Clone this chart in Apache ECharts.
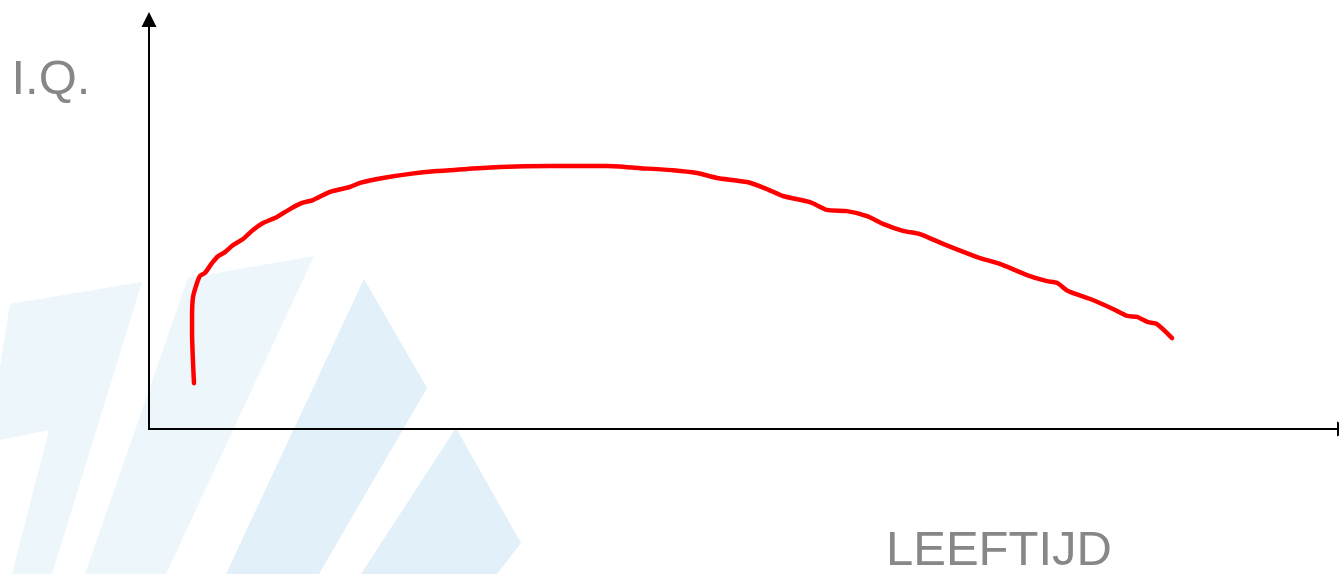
<!DOCTYPE html>
<html>
<head>
<meta charset="utf-8">
<script src="https://cdn.jsdelivr.net/npm/echarts@6/dist/echarts.min.js"></script>
<style>
html,body{margin:0;padding:0;background:#fff;}
#chart{width:1339px;height:574px;}
</style>
</head>
<body>
<div id="chart"></div>
<script>
// Data (arbitrary units: age 0-100, IQ 0-100)
const ageValues = [3.78,3.62,3.62,3.70,4.04,4.29,4.70,5.29,5.80,6.39,7.06,7.90,8.74,9.58,10.76,11.84,12.86,13.78,15.21,16.89,17.73,19.66,21.93,24.20,26.72,29.50,33.69,35.63,38.49,41.26,44.03,46.05,47.73,50.25,51.93,53.27,55.55,56.97,58.66,60.34,61.68,63.36,64.79,66.73,69.58,71.51,73.78,75.46,76.30,77.23,79.32,81.01,82.19,83.02,83.95,84.71,85.97];
const iqValues = [11.2,23.4,27.4,32.2,35.7,37.4,38.1,40.5,42.2,43.2,44.9,46.4,48.6,50.3,51.8,53.7,55.2,55.9,57.9,59.1,60.1,61.3,62.3,63.0,63.5,64.0,64.2,64.2,64.2,63.7,63.2,62.5,61.3,60.3,58.6,56.9,55.4,53.5,53.2,52.0,50.1,48.4,47.6,45.2,42.0,40.3,37.6,36.1,35.7,33.7,31.5,29.3,27.6,27.4,26.1,25.6,22.2];
const yAxisTitle = 'I.Q.';
const xAxisTitle = 'LEEFTIJD';

const seriesData = ageValues.map((a, i) => [a, iqValues[i]]);

const light = 'rgb(237,246,250)';
const mid = 'rgb(225,240,249)';

const chart = echarts.init(document.getElementById('chart'), null, {renderer: 'canvas'});
chart.setOption({
  animation: false,
  backgroundColor: '#ffffff',
  grid: {left: 149, top: 19.5, right: 0, bottom: 145, containLabel: false},
  xAxis: {
    type: 'value', min: 0, max: 100,
    axisLine: {show: true, onZero: false, symbol: ['none', 'triangle'], symbolSize: [15, 15], symbolOffset: [0, 5.5],
      lineStyle: {color: '#000', width: 2}},
    axisTick: {show: false}, axisLabel: {show: false}, splitLine: {show: false}
  },
  yAxis: {
    type: 'value', min: 0, max: 100,
    axisLine: {show: true, onZero: false, symbol: ['none', 'triangle'], symbolSize: [15, 15],
      lineStyle: {color: '#000', width: 2}},
    axisTick: {show: false}, axisLabel: {show: false}, splitLine: {show: false}
  },
  graphic: [
    {type: 'polygon', z: -10, silent: true, shape: {points: [[10,304],[142,282],[52,574],[12,574],[49,430],[0,440],[0,367]]}, style: {fill: light}},
    {type: 'polygon', z: -10, silent: true, shape: {points: [[188,278],[314,256],[166,574],[85,574]]}, style: {fill: light}},
    {type: 'polygon', z: -10, silent: true, shape: {points: [[364,279],[427,388],[319,574],[226,574]]}, style: {fill: mid}},
    {type: 'polygon', z: -10, silent: true, shape: {points: [[456,428],[521,543],[497,574],[361,574]]}, style: {fill: mid}},
    {type: 'text', z: 100, x: 11.5, y: 80,
      style: {text: yAxisTitle, fill: '#878787', font: '49px "Liberation Sans", Arial, sans-serif', verticalAlign: 'middle'}},
    {type: 'text', z: 100, x: 886, y: 551.5,
      style: {text: xAxisTitle, fill: '#878787', font: '49px "Liberation Sans", Arial, sans-serif', verticalAlign: 'middle'}}
  ],
  series: [{
    type: 'line',
    data: seriesData,
    showSymbol: false,
    smooth: 0.2,
    lineStyle: {color: '#ff0000', width: 4.5, cap: 'round', join: 'round'},
    z: 5
  }]
});
</script>
</body>
</html>
